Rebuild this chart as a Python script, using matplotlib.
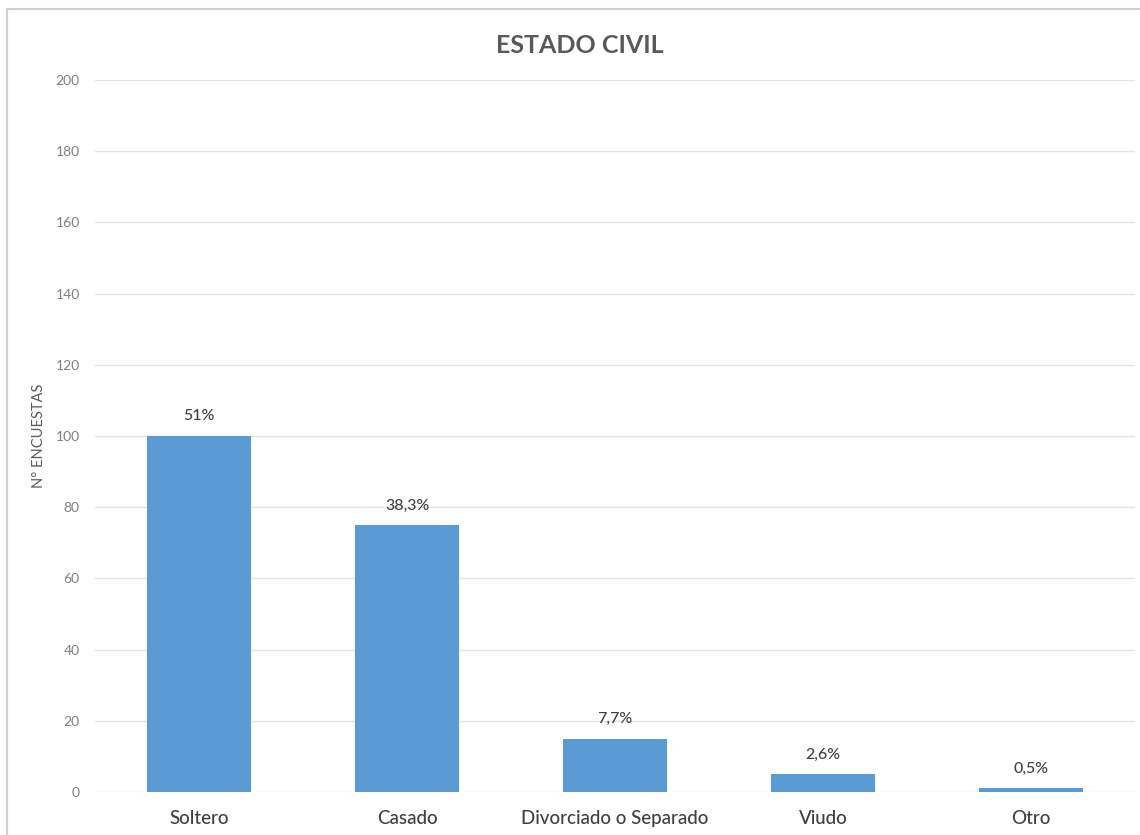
import matplotlib
matplotlib.use('Agg')
import matplotlib.pyplot as plt
from matplotlib.patches import Rectangle

plt.rcParams['font.family'] = ['Lato', 'DejaVu Sans']

# encuestas por estado civil
categorias = ['Soltero', 'Casado', 'Divorciado o Separado', 'Viudo', 'Otro']
encuestas = [100, 75, 15, 5, 1]
porcentajes = [51, 38.3, 7.7, 2.6, 0.5]
yticks = [0, 20, 40, 60, 80, 100, 120, 140, 160, 180, 200]

azul = '#5B9BD5'

fig = plt.figure(figsize=(11.4, 8.35), dpi=100)
ax = fig.add_axes([0.0833, 0.0515, 0.9123, 0.8527])

# marco del grafico
fig.patches.append(Rectangle((7/1140, -0.1), 1.2, 1 - 9/835 + 0.1, transform=fig.transFigure,
                             fill=False, edgecolor='#D0D0D0', linewidth=1.5))

x = range(len(categorias))
barras = ax.bar(x, encuestas, width=0.5, color=azul, zorder=3)

for b, p in zip(barras, porcentajes):
    txt = ('%g' % p).replace('.', ',') + '%'
    ax.annotate(txt, (b.get_x() + b.get_width()/2, b.get_height()),
                xytext=(0, 9), textcoords='offset points', ha='center', va='bottom',
                fontsize=11.5, color='#404040', fontweight='medium')

ax.set_xlim(-0.5, 4.5)
ax.set_ylim(0, 200)
ax.set_yticks(yticks)
ax.set_xticks(list(x))
ax.set_xticklabels(categorias, fontsize=13.5, color='#404040', fontweight='medium')
ax.tick_params(axis='y', labelsize=10, labelcolor='#7F7F7F', length=0, pad=11)
ax.tick_params(axis='x', length=0, pad=13)
ax.grid(axis='y', color='#E3E3E3', linewidth=1, zorder=0)
for s in ax.spines.values():
    s.set_visible(False)

ax.set_ylabel('N° ENCUESTAS', fontsize=10.5, color='#595959', labelpad=7)
fig.text(0.509, 0.945, 'ESTADO CIVIL', ha='center', va='center', fontsize=18,
         fontweight='bold', color='#595959')

plt.savefig('out.png', dpi=100)
